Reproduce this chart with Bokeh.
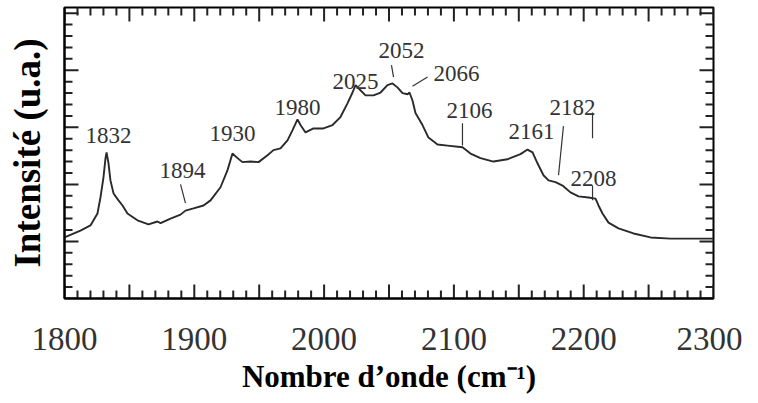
from bokeh.plotting import figure
from bokeh.models import Range1d, FixedTicker, ColumnDataSource, Title
from bokeh.core.properties import value
from bokeh.embed import file_html
from bokeh.resources import INLINE

# ---- spectrum ----
wavenumber = [1800, 1812.3, 1820.0, 1825.4, 1827.7, 1830.0, 1831.6, 1832.4, 1833.9, 1835.4,
              1837.8, 1841.6, 1844.7, 1848.5, 1856.2, 1864.7, 1871.6, 1874.0, 1881.7, 1889.4,
              1893.2, 1899.4, 1907.1, 1912.5, 1920.2, 1925.6, 1929.4, 1933.3, 1937.1, 1943.3,
              1949.5, 1956.4, 1961.0, 1966.4, 1971.8, 1975.7, 1979.5, 1981.8, 1985.7, 1991.8,
              1999.5, 2006.5, 2012.6, 2018.0, 2021.9, 2024.2, 2028.0, 2031.9, 2038.1, 2043.5,
              2048.8, 2052.7, 2056.5, 2060.4, 2064.3, 2065.8, 2068.1, 2070.4, 2075.8, 2080.4,
              2087.4, 2095.1, 2106.6, 2112.8, 2120.5, 2130.5, 2141.3, 2151.3, 2156.7, 2160.6,
              2164.4, 2169.0, 2172.9, 2178.3, 2183.7, 2189.8, 2196.0, 2203.7, 2209.1, 2211.4,
              2214.5, 2219.1, 2226.8, 2238.4, 2251.5, 2266.9, 2292.3, 2300]
intensity = [1.07, 1.19, 1.28, 1.49, 1.77, 2.12, 2.46, 2.56, 2.37, 2.07,
             1.84, 1.72, 1.63, 1.49, 1.37, 1.30, 1.35, 1.32, 1.40, 1.47,
             1.54, 1.58, 1.63, 1.72, 1.95, 2.25, 2.54, 2.46, 2.39, 2.40,
             2.39, 2.51, 2.60, 2.63, 2.77, 2.95, 3.14, 3.04, 2.91, 2.98,
             2.98, 3.04, 3.18, 3.42, 3.61, 3.74, 3.65, 3.56, 3.56, 3.61,
             3.74, 3.77, 3.70, 3.60, 3.58, 3.61, 3.47, 3.25, 3.04, 2.82,
             2.70, 2.68, 2.65, 2.54, 2.46, 2.40, 2.44, 2.53, 2.61, 2.56,
             2.37, 2.16, 2.07, 2.04, 1.98, 1.86, 1.79, 1.77, 1.75, 1.63,
             1.49, 1.33, 1.23, 1.14, 1.07, 1.05, 1.05, 1.05]

# ---- peak annotations ----
peak_labels = ["1832", "1894", "1930", "1980", "2025", "2052", "2066", "2106", "2161", "2182", "2208"]
label_x = [1833.9, 1890.9, 1929.4, 1979.5, 2024.2, 2059.6, 2102.0, 2112.0, 2159.8, 2191.4, 2207.6]
label_y = [2.86, 2.25, 2.89, 3.35, 3.81, 4.35, 3.95, 3.30, 2.93, 3.35, 2.11]

leader_x0 = [1889.4, 2051.9, 2068.1, 2106.6, 2184.4, 2206.8, 2206.8]
leader_y0 = [2.00, 4.09, 3.72, 3.07, 3.02, 3.26, 1.98]
leader_x1 = [1893.2, 2053.5, 2079.7, 2106.6, 2180.6, 2206.8, 2206.8]
leader_y1 = [1.67, 3.88, 3.88, 2.68, 2.16, 2.81, 1.72]

# ---- axes ----
X0, X1 = 1800, 2300
Y0, Y1 = 0, 5.1
x_label_ticks = list(range(1800, 2301, 100))
x_major_ticks = [float(t) for t in range(1800, 2301, 50)]
x_minor_ticks = [float(t) for t in range(1800, 2301, 10) if t % 50 != 0]
y_major_ticks = [0, 1, 2, 3, 4, 5]
y_minor_ticks = [round(i * 0.2, 1) for i in range(0, 26) if i % 5 != 0]

x_title = "Nombre d’onde (cm⁻¹)"
y_title = "Intensité (u.a.)"

SERIF = "Liberation Serif"
TICK_COLOR = "#222222"

W, H = 742, 403
BL, BR, BT, BB = 64, 29, 7, 105
FW, FH = W - BL - BR, H - BT - BB          # frame size in px
dx = (X1 - X0) / FW

p = figure(width=W, height=H, x_range=Range1d(X0, X1), y_range=Range1d(Y0, Y1),
           output_backend="svg", toolbar_location=None,
           min_border_left=BL, min_border_right=BR, min_border_top=BT, min_border_bottom=BB)
p.grid.visible = False
p.outline_line_color = "black"
p.outline_line_width = 2
p.background_fill_color = "white"
p.border_fill_color = "white"

xa = p.xaxis[0]
xa.ticker = FixedTicker(ticks=x_label_ticks, minor_ticks=[])
xa.major_tick_in = 0
xa.major_tick_out = 0
xa.minor_tick_in = 0
xa.minor_tick_out = 0
xa.axis_line_color = "black"
xa.axis_line_width = 2
xa.major_label_text_font = SERIF
xa.major_label_text_font_size = "33px"
xa.major_label_text_color = "#333333"
xa.major_label_standoff = 29

ya = p.yaxis[0]
ya.ticker = FixedTicker(ticks=[], minor_ticks=[])
ya.major_tick_in = 0
ya.major_tick_out = 0
ya.minor_tick_in = 0
ya.minor_tick_out = 0
ya.axis_line_color = "black"
ya.axis_line_width = 2
ya.axis_label = y_title
ya.axis_label_text_font = SERIF
ya.axis_label_text_font_style = "bold"
ya.axis_label_text_font_size = "37px"
ya.axis_label_text_color = "black"
ya.axis_label_standoff = 17

p.add_layout(Title(text=x_title, align="center", standoff=8,
                   text_font=SERIF, text_font_style="bold", text_font_size="31px",
                   text_color="black"), "below")

# inward ticks on all four sides
MAJ_PX, MIN_PX = 14, 8
for ticks, L in ((x_major_ticks, MAJ_PX), (x_minor_ticks, MIN_PX)):
    n = len(ticks)
    for edge in (Y0, Y1):
        p.rect(x=ticks, y=[edge] * n, width=2, height=2 * L,
               width_units="screen", height_units="screen",
               fill_color=TICK_COLOR, line_color=None)
for ticks, L in ((y_major_ticks, MAJ_PX), (y_minor_ticks, MIN_PX)):
    n = len(ticks)
    p.segment(x0=[X0] * n, y0=ticks, x1=[X0 + L * dx] * n, y1=ticks,
              line_color=TICK_COLOR, line_width=2)
    p.segment(x0=[X1] * n, y0=ticks, x1=[X1 - L * dx] * n, y1=ticks,
              line_color=TICK_COLOR, line_width=2)

p.line(wavenumber, intensity, line_color="#2a2a2a", line_width=1.9)

p.segment(x0=leader_x0, y0=leader_y0, x1=leader_x1, y1=leader_y1,
          line_color="#333333", line_width=1.2)

src = ColumnDataSource(dict(x=label_x, y=label_y, t=peak_labels))
p.text(x="x", y="y", text="t", source=src, text_font=value(SERIF),
       text_font_size="23px", text_color="#333333",
       text_align="center", text_baseline="middle")

open("out.html", "w").write(file_html(p, INLINE))
